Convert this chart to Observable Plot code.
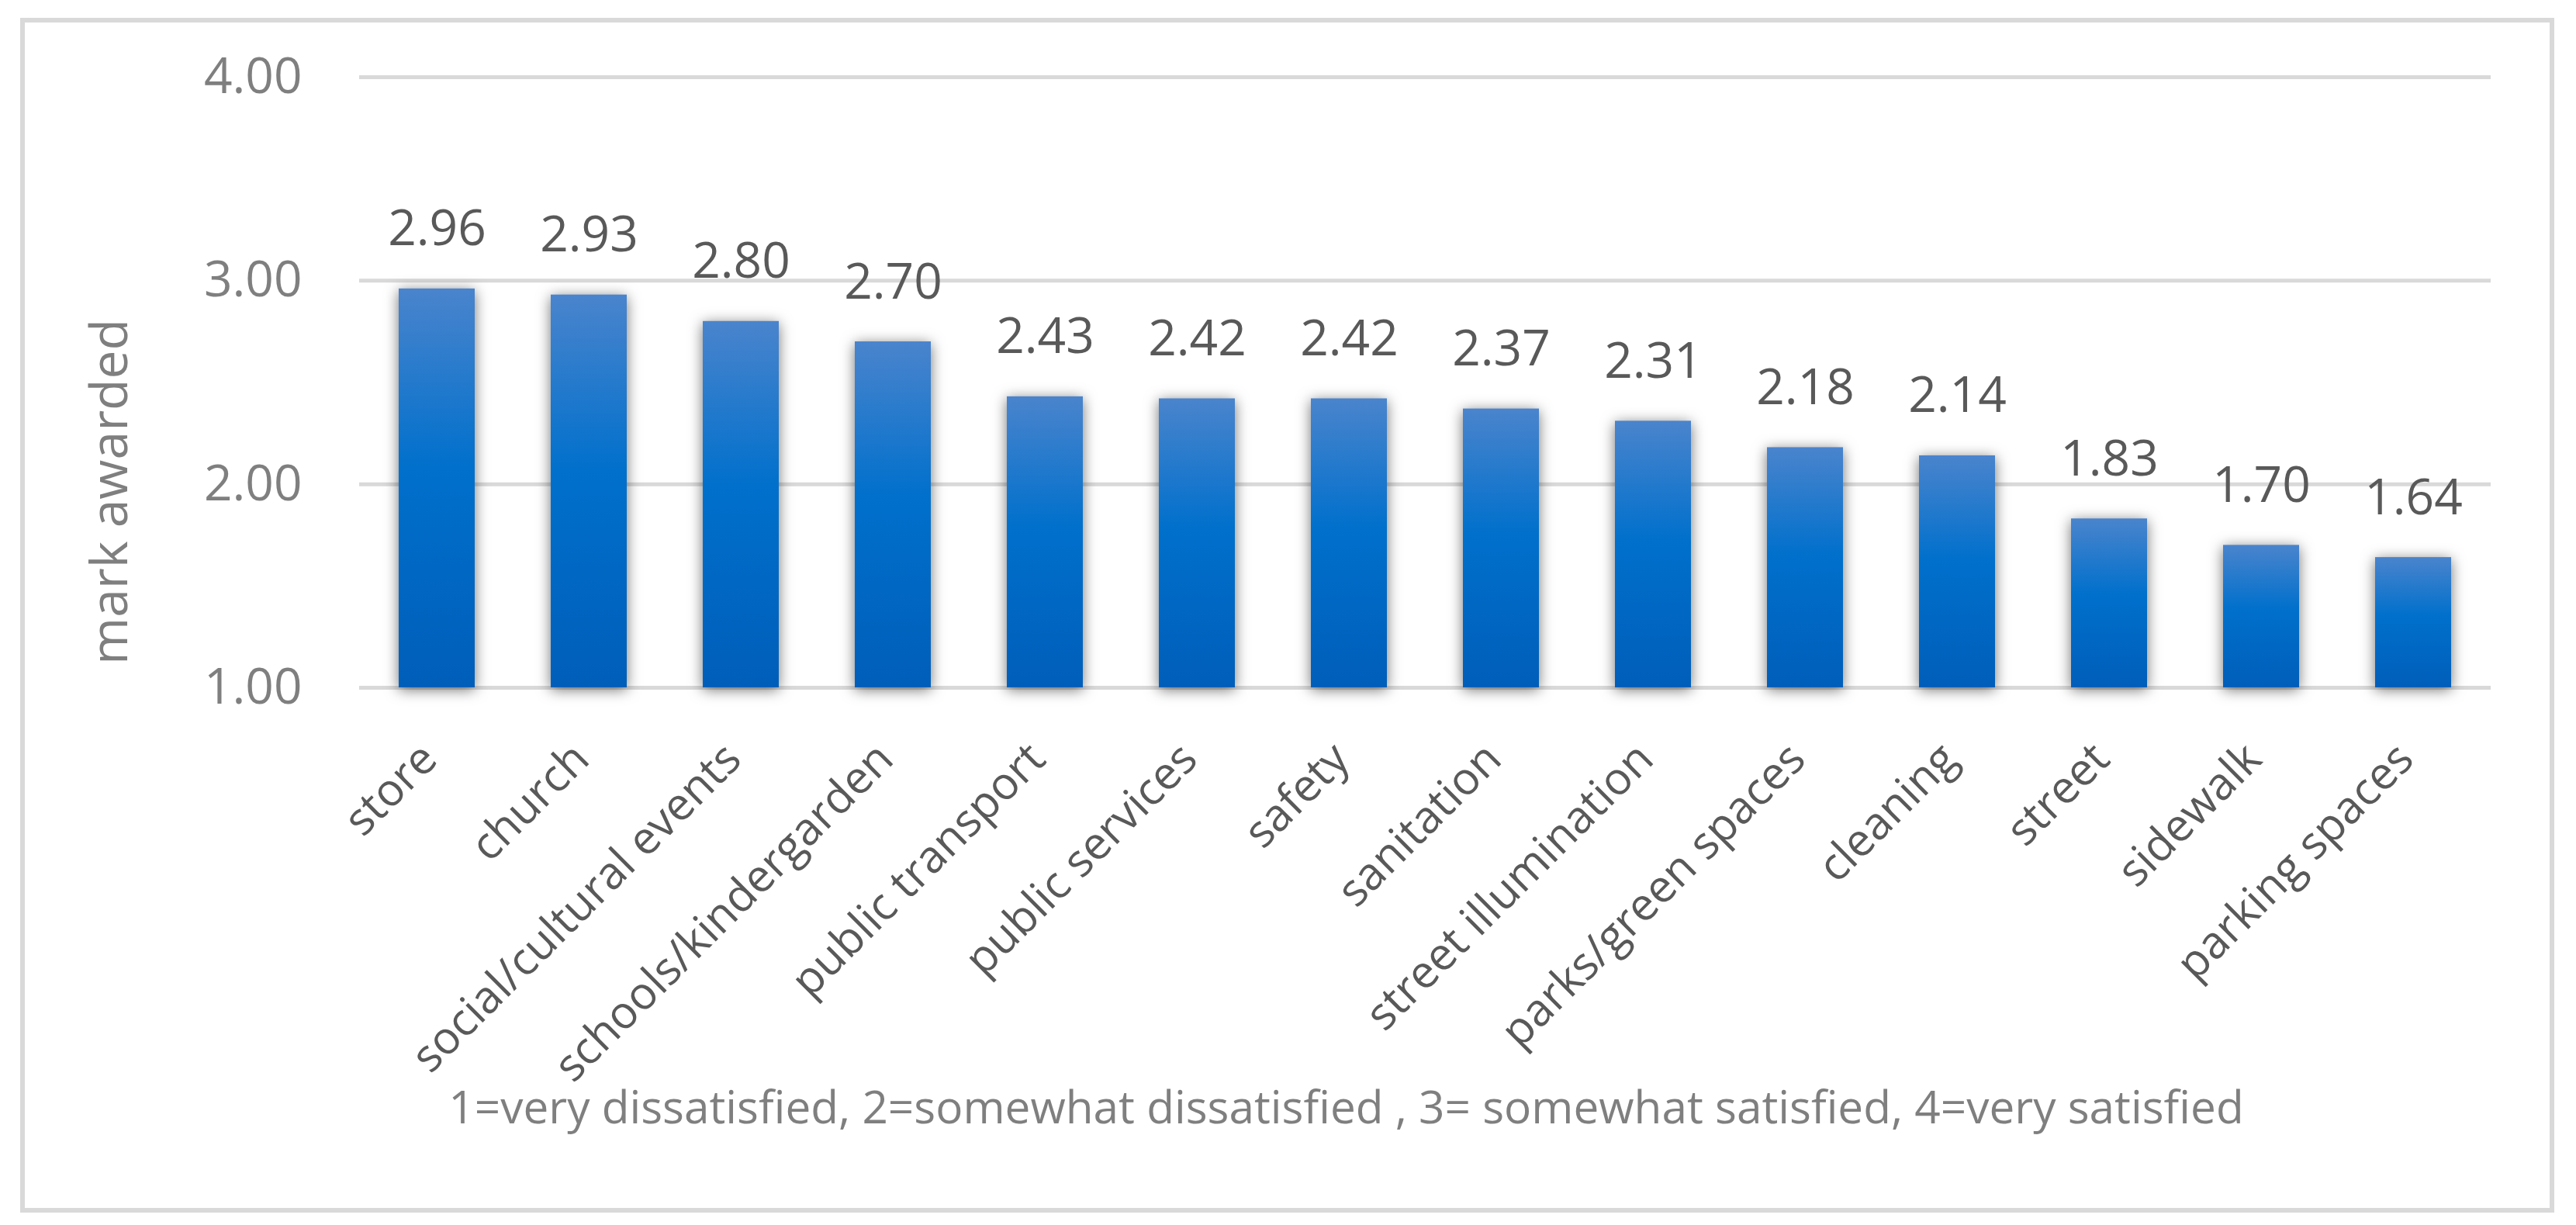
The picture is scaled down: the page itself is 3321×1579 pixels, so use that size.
<!DOCTYPE html>
<html><head><meta charset="utf-8">
<script src="https://cdn.jsdelivr.net/npm/d3@7"></script>
<script src="https://cdn.jsdelivr.net/npm/@observablehq/plot@0.6"></script>
<style>
html,body{margin:0;padding:0;background:#fff;}
#wrap{position:relative;width:3321px;height:1579px;overflow:hidden;background:#fff;}
#border{position:absolute;left:26px;top:23px;width:3255px;height:1528px;border:6px solid #d9d9d9;box-sizing:content-box;}
#chart{position:absolute;left:0;top:0;}
</style></head><body>
<div id="wrap"><div id="border"></div><div id="chart"></div></div>
<script>
const categories = ["store","church","social/cultural events","schools/kindergarden","public transport","public services","safety","sanitation","street illumination","parks/green spaces","cleaning","street","sidewalk","parking spaces"];
const values = [2.96,2.93,2.80,2.70,2.43,2.42,2.42,2.37,2.31,2.18,2.14,1.83,1.70,1.64];
const yTicks = [1,2,3,4];
const yLabel = "mark awarded";
const caption = "1=very dissatisfied, 2=somewhat dissatisfied , 3= somewhat satisfied, 4=very satisfied";

const data = categories.map((c,i)=>({category:c, value:values[i]}));
const font = "'Open Sans', sans-serif";
const chart = Plot.plot({
  width: 3321, height: 1579,
  marginLeft: 463, marginRight: 110, marginTop: 99, marginBottom: 693,
  style: {fontFamily: font, background: "transparent", overflow: "visible"},
  x: {domain: categories, paddingInner: 0.5, paddingOuter: 0.25, axis: null},
  y: {domain: [1,4], axis: null},
  marks: [
    Plot.ruleY(yTicks, {stroke: "#d9d9d9", strokeWidth: 5}),
    Plot.barY(data, {x: "category", y1: 1, y2: "value", fill: "url(#barGrad)"}),
    Plot.text(data, {x: "category", y: "value", text: d => d.value.toFixed(2), dy: -56, lineAnchor: "bottom", fontSize: 64, fill: "#595959"}),
    Plot.text(yTicks, {y: d => d, text: d => d.toFixed(2), frameAnchor: "left", dx: -74, textAnchor: "end", lineAnchor: "middle", fontSize: 64, fill: "#7f7f7f"}),
    Plot.text(data, {x: "category", frameAnchor: "bottom", text: "category", rotate: -45, textAnchor: "end", lineAnchor: "middle", dx: -10, dy: 82, fontSize: 58, fill: "#595959"}),
    Plot.text([yLabel], {frameAnchor: "left", text: d => d, rotate: -90, textAnchor: "middle", lineAnchor: "middle", dx: -321, dy: 141, fontSize: 66, fill: "#7f7f7f"}),
    Plot.text([caption], {frameAnchor: "bottom", text: d => d, textAnchor: "middle", lineAnchor: "middle", dx: -102, dy: 543, fontSize: 58.5, fill: "#7f7f7f"})
  ]
});
document.getElementById("chart").appendChild(chart);
const svg = chart.tagName.toLowerCase() === "svg" ? chart : chart.querySelector("svg");
const ns = "http://www.w3.org/2000/svg";
const defs = document.createElementNS(ns, "defs");
defs.innerHTML = '<linearGradient id="barGrad" x1="0" y1="0" x2="0" y2="1"><stop offset="0" stop-color="#4a84cd"/><stop offset="0.45" stop-color="#0070cc"/><stop offset="1" stop-color="#005eb9"/></linearGradient>';
svg.insertBefore(defs, svg.firstChild);
const barG = svg.querySelector('g[aria-label="bar"]');
if (barG) barG.style.filter = "drop-shadow(0px 3px 9px rgba(0,0,0,0.55))";
</script>
</body></html>
